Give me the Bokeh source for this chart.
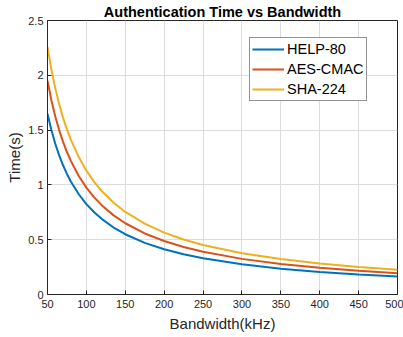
from bokeh.plotting import figure
from bokeh.models import Legend, LegendItem, Range1d, FixedTicker
from bokeh.embed import file_html
from bokeh.resources import INLINE

bandwidth = [50, 55, 60, 65, 70, 75, 80, 90, 100, 110, 120, 135, 150, 175, 200, 225, 250, 300, 350, 400, 450, 500]
help80 = [1.65, 1.50, 1.375, 1.269, 1.179, 1.10, 1.031, 0.917, 0.825, 0.75, 0.688, 0.611, 0.55, 0.471, 0.413, 0.367, 0.33, 0.275, 0.236, 0.206, 0.183, 0.165]
aes_cmac = [1.95, 1.773, 1.625, 1.50, 1.393, 1.30, 1.219, 1.083, 0.975, 0.886, 0.813, 0.722, 0.65, 0.557, 0.488, 0.433, 0.39, 0.325, 0.279, 0.244, 0.217, 0.195]
sha224 = [2.26, 2.055, 1.883, 1.738, 1.614, 1.507, 1.413, 1.256, 1.13, 1.027, 0.942, 0.837, 0.753, 0.646, 0.565, 0.502, 0.452, 0.377, 0.323, 0.283, 0.251, 0.226]
names = ["HELP-80", "AES-CMAC", "SHA-224"]
colors = ["#0072BD", "#D95319", "#EDB120"]
x_ticks = [50, 100, 150, 200, 250, 300, 350, 400, 450, 500]
y_ticks = [0, 0.5, 1, 1.5, 2, 2.5]
title_text = "Authentication Time vs Bandwidth"

FONT = "Liberation Sans"

p = figure(width=403, height=337,
           output_backend="svg", toolbar_location=None,
           x_range=Range1d(50, 500), y_range=Range1d(0, 2.5),
           min_border_left=47, min_border_right=6, min_border_bottom=43, min_border_top=19)

p.title.text = title_text
p.title.align = "center"
p.title.text_font = FONT
p.title.text_font_size = "14.5px"
p.title.text_font_style = "bold"
p.title.text_color = "#000000"
p.title.standoff = 2

items = []
for ys, n, c in zip([help80, aes_cmac, sha224], names, colors):
    r = p.line(bandwidth, ys, line_color=c, line_width=2)
    items.append(LegendItem(label=n, renderers=[r]))

legend = Legend(items=items, location=(202, 193))
legend.label_text_font = FONT
legend.label_text_font_size = "14.5px"
legend.label_text_color = "#000000"
legend.border_line_color = "#262626"
legend.border_line_width = 1
legend.background_fill_alpha = 1
legend.glyph_width = 32
legend.glyph_height = 18
legend.label_height = 18
legend.spacing = 2
legend.padding = 2
legend.margin = 0
legend.label_standoff = 3
p.add_layout(legend, "center")

for ax, ticks in ((p.xaxis, x_ticks), (p.yaxis, y_ticks)):
    ax.ticker = FixedTicker(ticks=ticks)
    ax.major_label_text_font = FONT
    ax.major_label_text_font_size = "11px"
    ax.major_label_text_color = "#262626"
    ax.axis_line_color = "#262626"
    ax.major_tick_line_color = "#262626"
    ax.major_tick_in = 4
    ax.major_tick_out = 0
    ax.minor_tick_line_color = None
    ax.axis_label_text_font = FONT
    ax.axis_label_text_font_size = "15px"
    ax.axis_label_text_font_style = "normal"
    ax.axis_label_text_color = "#262626"

p.xaxis.axis_label = "Bandwidth(kHz)"
p.yaxis.axis_label = "Time(s)"
p.xaxis.major_label_standoff = 5
p.yaxis.major_label_standoff = 4
p.xaxis.axis_label_standoff = 4
p.yaxis.axis_label_standoff = 2

p.xgrid.grid_line_color = "#dcdcdc"
p.ygrid.grid_line_color = "#dcdcdc"
p.outline_line_color = "#262626"
p.outline_line_width = 1
p.background_fill_color = "white"
p.border_fill_color = "white"

open("out.html", "w").write(file_html(p, INLINE))
